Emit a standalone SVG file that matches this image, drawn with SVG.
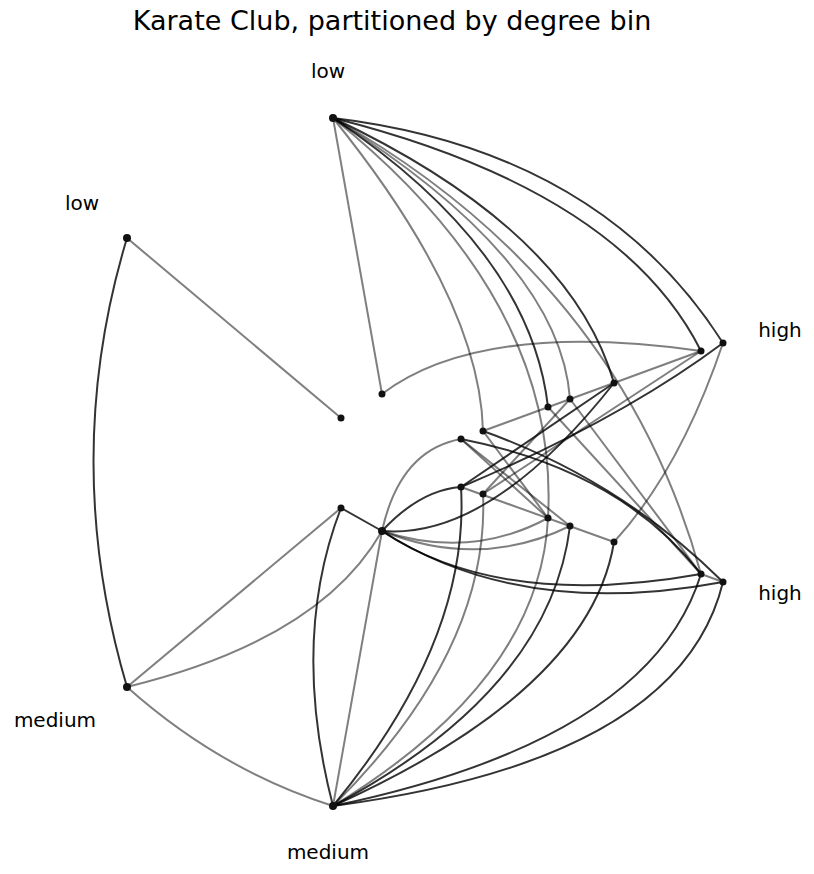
<svg xmlns="http://www.w3.org/2000/svg" width="814" height="874" viewBox="0 0 814 874">
<style>
text{font-family:"DejaVu Sans",sans-serif;font-size:20px;fill:#000}
.g{fill:none;stroke:#000;stroke-opacity:0.5;stroke-width:2}
.d{fill:none;stroke:#000;stroke-opacity:0.8;stroke-width:2}
circle{fill:#111}
</style>
<rect width="814" height="874" fill="#fff"/>
<text x="392" y="30" text-anchor="middle" style="font-size:27px">Karate Club, partitioned by degree bin</text>
<text x="328" y="78" text-anchor="middle">low</text>
<text x="82" y="210" text-anchor="middle">low</text>
<text x="780" y="337" text-anchor="middle">high</text>
<text x="780" y="600" text-anchor="middle">high</text>
<text x="55" y="727" text-anchor="middle">medium</text>
<text x="328" y="859" text-anchor="middle">medium</text>
<g id="connectors">
<path class="g" d="M333,118 L382,394"/>
<path class="d" d="M333,118 Q600,150 723,343"/>
<path class="d" d="M333,118 Q620,190 701,351"/>
<path class="d" d="M333,118 Q570,230 614,383"/>
<path class="d" d="M333,118 Q530,250 548,407"/>
<path class="g" d="M333,118 Q560,260 570,399"/>
<path class="g" d="M333,118 Q480,300 483,431"/>
<path class="g" d="M333,118 Q560,300 548,518"/>
<path class="g" d="M333,118 Q620,280 701,574"/>
<path class="g" d="M127,238 L341,418"/>
<path class="d" d="M127,238 Q60,460 127,687"/>
<path class="g" d="M127,687 L341,508"/>
<path class="g" d="M127,687 Q320,640 382,531"/>
<path class="g" d="M127,687 Q220,770 333,806"/>
<path class="d" d="M333,806 Q290,640 341,508"/>
<path class="g" d="M333,806 L382,531"/>
<path class="d" d="M333,806 Q470,640 461,487"/>
<path class="g" d="M333,806 Q490,650 483,494"/>
<path class="g" d="M333,806 Q540,680 548,518"/>
<path class="d" d="M333,806 Q550,690 570,526"/>
<path class="d" d="M333,806 Q590,690 614,542"/>
<path class="d" d="M333,806 Q650,740 701,574"/>
<path class="d" d="M333,806 Q680,760 723,582"/>
<path class="g" d="M382,394 Q480,320 701,351"/>
<path class="d" d="M341,508 L382,531"/>
<path class="d" d="M382,531 Q490,540 614,383"/>
<path class="d" d="M382,531 Q420,490 461,487"/>
<path class="g" d="M382,531 Q470,560 548,518"/>
<path class="g" d="M382,531 Q480,570 570,526"/>
<path class="d" d="M382,531 Q500,610 701,574"/>
<path class="d" d="M382,531 Q520,620 723,582"/>
<path class="g" d="M382,531 Q400,450 461,439"/>
<path class="d" d="M461,487 L614,383"/>
<path class="d" d="M461,487 Q620,420 723,343"/>
<path class="g" d="M461,487 L614,542"/>
<path class="g" d="M483,494 L701,351"/>
<path class="g" d="M483,494 L570,399"/>
<path class="g" d="M461,439 L548,518"/>
<path class="d" d="M461,439 Q620,470 701,574"/>
<path class="g" d="M461,439 L570,526"/>
<path class="d" d="M483,431 Q620,480 723,582"/>
<path class="g" d="M483,431 L701,351"/>
<path class="g" d="M483,431 L548,518"/>
<path class="g" d="M570,399 L701,574"/>
<path class="g" d="M548,407 L701,574"/>
<path class="g" d="M723,343 Q680,470 614,542"/>
<path class="g" d="M701,574 L723,582"/>
</g>
<g id="nodes">
<g id="n1"><circle cx="333" cy="118" r="4"/></g>
<g id="n2"><circle cx="127" cy="238" r="4"/></g>
<g id="n3"><circle cx="341" cy="418" r="3.5"/></g>
<g id="n4"><circle cx="382" cy="394" r="3.5"/></g>
<g id="n5"><circle cx="701" cy="351" r="3.5"/></g>
<g id="n6"><circle cx="723" cy="343" r="3.5"/></g>
<g id="n7"><circle cx="614" cy="383" r="3.5"/></g>
<g id="n8"><circle cx="570" cy="399" r="3.5"/></g>
<g id="n9"><circle cx="548" cy="407" r="3.5"/></g>
<g id="n10"><circle cx="483" cy="431" r="3.5"/></g>
<g id="n11"><circle cx="461" cy="439" r="3.5"/></g>
<g id="n12"><circle cx="461" cy="487" r="3.5"/></g>
<g id="n13"><circle cx="483" cy="494" r="3.5"/></g>
<g id="n14"><circle cx="548" cy="518" r="3.5"/></g>
<g id="n15"><circle cx="570" cy="526" r="3.5"/></g>
<g id="n16"><circle cx="614" cy="542" r="3.5"/></g>
<g id="n17"><circle cx="701" cy="574" r="3.5"/></g>
<g id="n18"><circle cx="723" cy="582" r="3.5"/></g>
<g id="n19"><circle cx="341" cy="508" r="3.5"/></g>
<g id="n20"><circle cx="382" cy="531" r="4"/></g>
<g id="n21"><circle cx="127" cy="687" r="4"/></g>
<g id="n22"><circle cx="333" cy="806" r="4"/></g>
</g>
</svg>
